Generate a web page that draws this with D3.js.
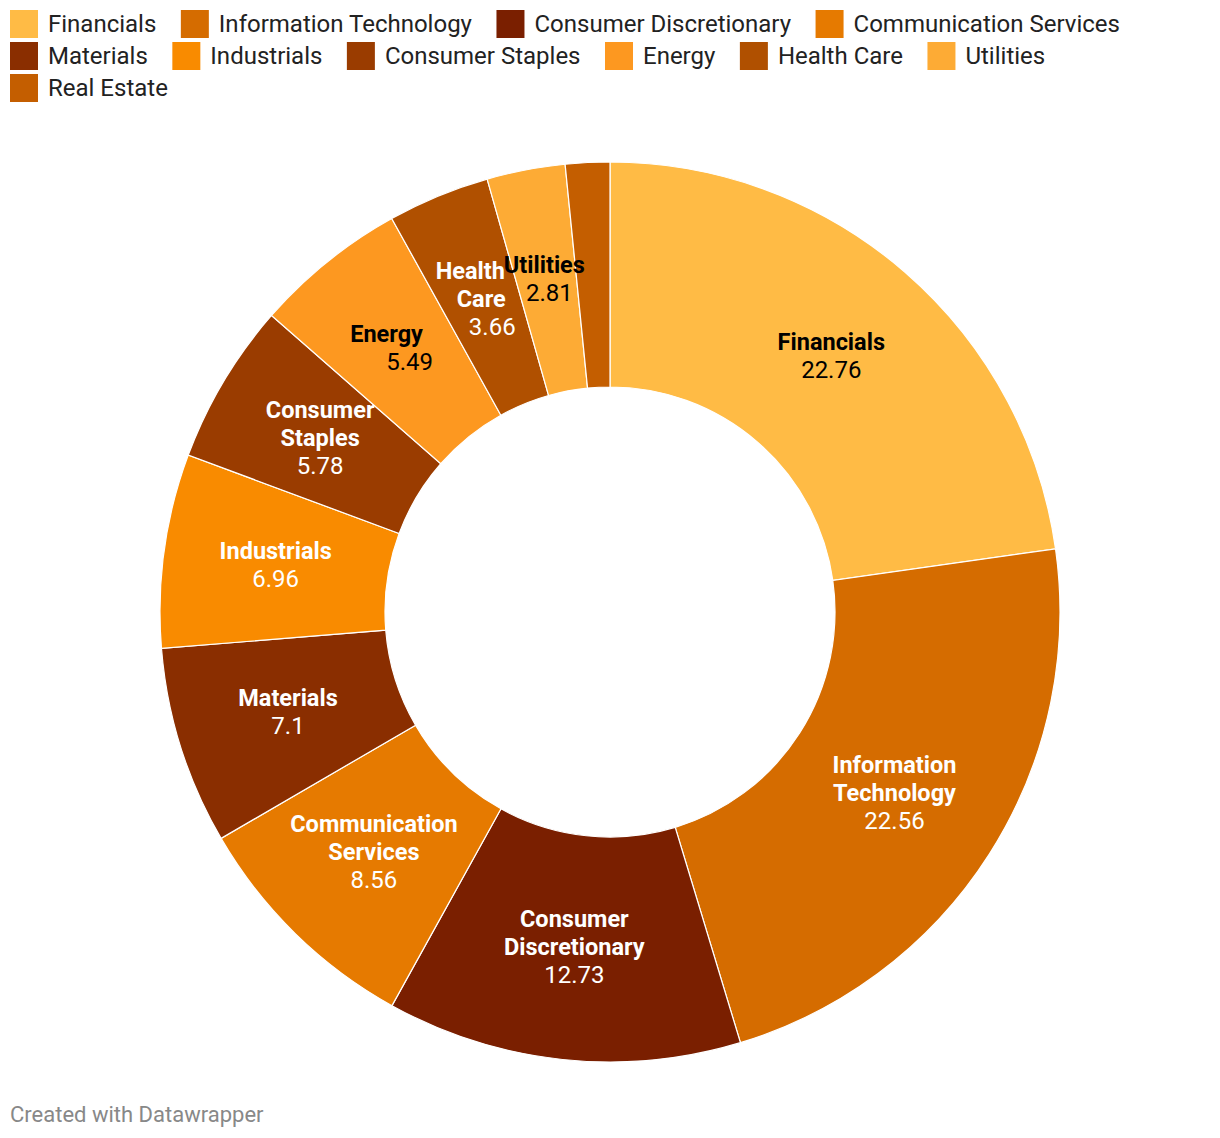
<!DOCTYPE html>
<html>
<head>
<meta charset="utf-8">
<script src="https://cdn.jsdelivr.net/npm/d3@7"></script>
<style>
  html, body { margin: 0; padding: 0; background: #fff; }
  svg { display: block; font-family: Roboto, sans-serif; }
</style>
</head>
<body>
<svg></svg>
<script>
(function (d3) {
  'use strict';

  // data
  const sectors = ['Financials', 'Information Technology', 'Consumer Discretionary',
    'Communication Services', 'Materials', 'Industrials', 'Consumer Staples',
    'Energy', 'Health Care', 'Utilities', 'Real Estate'];
  const weights = [22.76, 22.56, 12.73, 8.56, 7.1, 6.96, 5.78, 5.49, 3.66, 2.81, 1.59];
  const colors = ['#ffbb45', '#d56c00', '#7a1f00', '#e67a00', '#8a2e00', '#f98b00',
    '#9a3c00', '#fd9820', '#b05000', '#fdab35', '#c45e00'];
  const darkText = ['Financials', 'Energy', 'Utilities'];
  const hideLabel = ['Real Estate'];

  // crowded labels get their lines slid sideways a bit (px per line)
  const lineSkew = { 'Energy': 23, 'Health Care': 11, 'Utilities': 5 };

  const width = 1220;
  const height = 1138;
  const cx = 610, cy = 612;
  const outerR = 450, innerR = 225;

  const svg = d3.select('svg')
      .attr('width', width)
      .attr('height', height);

  const color = d3.scaleOrdinal().domain(sectors).range(colors);

  // legend, laid out like a wrapping flex row
  const legend = svg.append('g').attr('class', 'legend');
  let lx = 10, ly = 10;
  const maxX = 1210;
  sectors.forEach(name => {
    const item = legend.append('g');
    item.append('rect')
        .attr('width', 28)
        .attr('height', 28)
        .attr('fill', color(name));
    const t = item.append('text')
        .attr('x', 38)
        .attr('y', 22)
        .attr('font-size', 24)
        .attr('fill', '#222')
        .text(name);
    const w = 38 + t.node().getComputedTextLength();
    if (lx + w > maxX) { lx = 10; ly += 32; }
    item.attr('transform', `translate(${lx},${ly})`);
    lx += w + 24.5;
  });

  const pie = d3.pie().sort(null).value(d => d.value);
  const arc = d3.arc().innerRadius(innerR).outerRadius(outerR);
  const labelArc = d3.arc().innerRadius((innerR + outerR) / 2).outerRadius((innerR + outerR) / 2);

  const data = sectors.map((s, i) => ({ name: s, value: weights[i] }));
  const arcs = pie(data);

  const g = svg.append('g')
      .attr('transform', `translate(${cx},${cy})`);

  g.selectAll('path').data(arcs)
    .enter().append('path')
      .attr('d', arc)
      .attr('fill', d => color(d.data.name))
      .attr('stroke', '#fff')
      .attr('stroke-width', 1.2);

  const labels = g.selectAll('g.label')
    .data(arcs.filter(d => !hideLabel.includes(d.data.name)))
    .enter().append('g')
      .attr('class', 'label')
      .attr('transform', d => `translate(${labelArc.centroid(d)})`);

  labels.each(function (d) {
    const words = d.data.name.split(' ');
    const lines = words.concat([String(d.data.value)]);
    const n = lines.length;
    const lh = 28;
    const top = -(n * lh) / 2 + lh * 0.75;
    const skew = lineSkew[d.data.name] || 0;
    const fill = darkText.includes(d.data.name) ? '#000' : '#fff';
    const sel = d3.select(this);
    lines.forEach((w, i) => {
      const isValue = i === n - 1;
      sel.append('text')
          .attr('text-anchor', 'middle')
          .attr('x', skew * (i - (n - 1) / 2))
          .attr('y', top + i * lh)
          .attr('font-size', isValue ? 24 : 23.5)
          .attr('font-weight', isValue ? 400 : 700)
          .attr('fill', fill)
          .text(w);
    });
  });

  svg.append('text')
      .attr('x', 10)
      .attr('y', 1122)
      .attr('font-size', 22)
      .attr('fill', '#888')
      .text('Created with Datawrapper');

}(d3));
</script>
</body>
</html>
